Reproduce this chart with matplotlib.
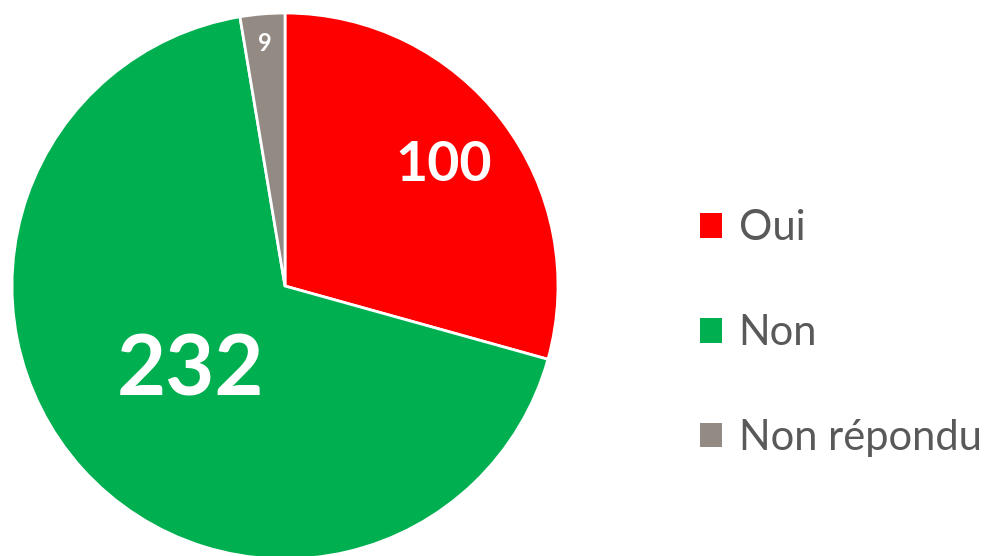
import numpy as np
import matplotlib
matplotlib.use('Agg')
import matplotlib.pyplot as plt
from matplotlib.patches import Patch

categories = ['Oui', 'Non', 'Non répondu']
counts = [100, 232, 9]
colors = ['#FF0000', '#00B050', '#948A84']

# label placement per wedge (radius fraction, font size)
label_radius = [0.73, 0.465, 0.89]
label_size = [40, 61, 17]

plt.rcParams['font.family'] = ['Lato', 'DejaVu Sans']

fig = plt.figure(figsize=(10, 5.56), dpi=100)
ax = fig.add_axes([0.012, -0.0054, 0.546, 0.982])
wedges, _ = ax.pie(counts, colors=colors, startangle=90, counterclock=False,
                   radius=1, wedgeprops=dict(edgecolor='white', linewidth=2))
ax.set_xlim(-1, 1)
ax.set_ylim(-1, 1)
ax.set_aspect('equal')
ax.axis('off')

for w, val, r, fs in zip(wedges, counts, label_radius, label_size):
    ang = np.deg2rad((w.theta1 + w.theta2) / 2)
    ax.text(r * np.cos(ang), r * np.sin(ang), str(val), ha='center', va='center',
            color='white', fontsize=fs, fontweight='bold')

handles = [Patch(facecolor=c, edgecolor='none') for c in colors]
leg = fig.legend(handles, categories, loc='center left', bbox_to_anchor=(0.700, 0.401),
                 frameon=False, fontsize=30, handlelength=0.53, handleheight=0.53,
                 handletextpad=0.4, labelspacing=1.6, borderpad=0, borderaxespad=0,
                 labelcolor='#595959')

fig.savefig('out.png', dpi=100)
